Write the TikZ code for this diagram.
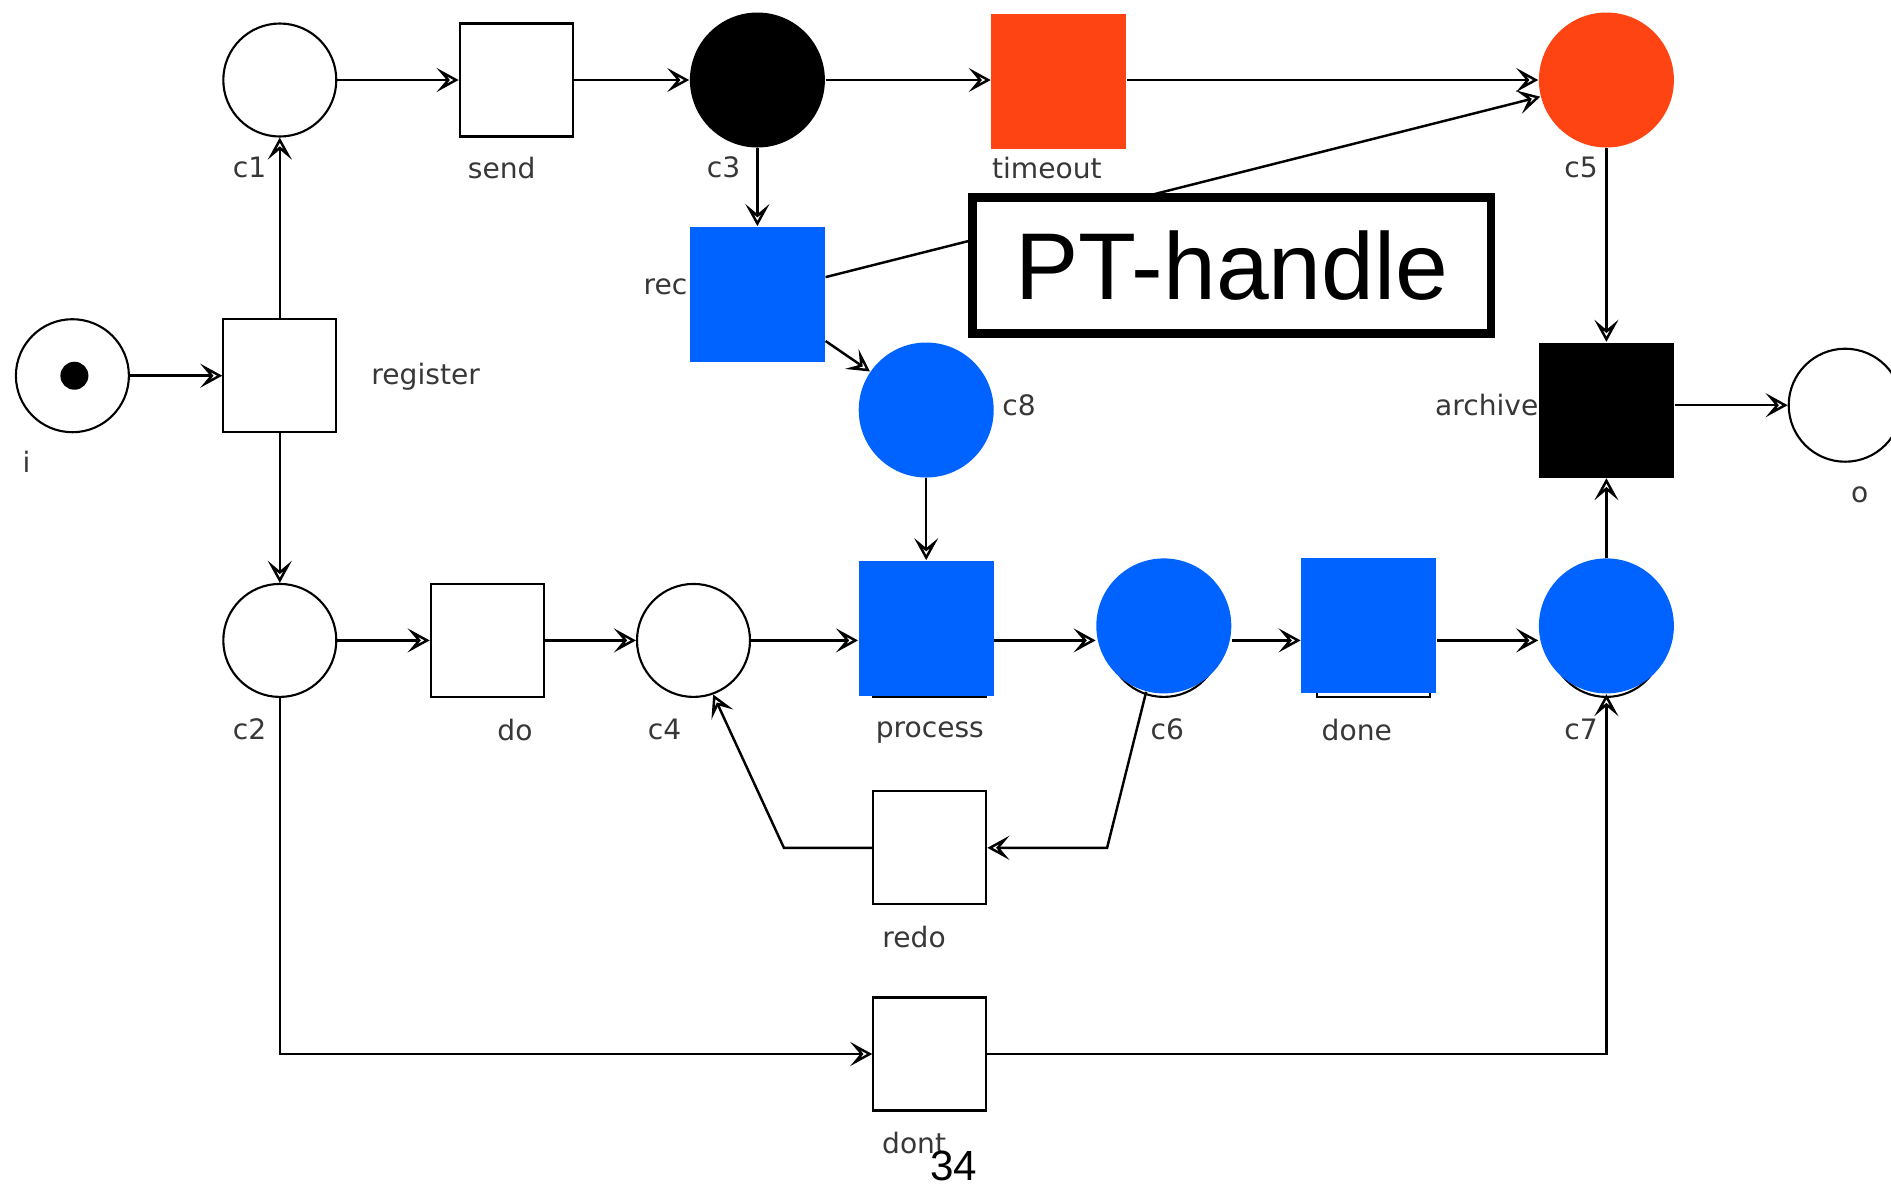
\documentclass[tikz,border=0pt]{standalone}
\usepackage{fontspec}
\setmainfont{DejaVu Sans}
\newfontfamily\boxfont{Liberation Sans}
\usetikzlibrary{arrows.meta}
\definecolor{pnblue}{RGB}{0,98,255}
\definecolor{pnred}{RGB}{255,68,20}
\definecolor{lblgray}{RGB}{55,55,55}

\tikzset{
  place/.style={circle, draw, line width=0.6pt, fill=white, minimum size=1.13cm, inner sep=0pt},
  trans/.style={rectangle, draw, line width=0.6pt, fill=white, minimum size=1.13cm, inner sep=0pt},
  hlplace/.style={circle, fill=#1, minimum size=1.35cm, inner sep=0pt},
  hltrans/.style={rectangle, fill=#1, minimum size=1.35cm, inner sep=0pt},
  lbl/.style={text=lblgray, font=\fontsize{8}{9}\selectfont, inner sep=0pt},
  flow/.style={-{Stealth[open, length=2.2mm, width=2.4mm, inset=1mm]}, line width=0.7pt},
}

\begin{document}
\begin{tikzpicture}
\useasboundingbox (0,0) rectangle (18.91,-11.855);

% Mista a prechody (bila)
\node[place] (i) at (0.724,-3.757) {};
\fill ([xshift=0.2mm]i.center) circle (1.4mm);
\node[trans] (register) at (2.798,-3.757) {};
\node[place] (c1) at (2.798,-0.800) {};
\node[trans] (send) at (5.162,-0.800) {};
\node[place] (c2) at (2.798,-6.404) {};
\node[trans] (do) at (4.872,-6.404) {};
\node[place] (c4) at (6.935,-6.404) {};
\node[trans] (redo) at (9.298,-8.478) {};
\node[trans] (dont) at (9.298,-10.540) {};
\node[place] (o) at (18.452,-4.052) {};

% Puvodni obrysy pod modrymi
\draw[line width=0.6pt] (9.298,-6.404) +(-0.565,-0.565) rectangle +(0.565,0.565);
\draw[line width=0.6pt] (11.638,-6.404) circle (0.565);
\draw[line width=0.6pt] (13.736,-6.404) +(-0.565,-0.565) rectangle +(0.565,0.565);
\draw[line width=0.6pt] (16.064,-6.404) circle (0.565);

% Zvyraznene uzly
\node[hlplace=black] (c3) at (7.574,-0.800) {};
\node[hltrans=pnred] (timeout) at (10.589,-0.810) {};
\node[hlplace=pnred] (c5) at (16.064,-0.800) {};
\node[hltrans=pnblue] (rec) at (7.574,-2.943) {};
\node[hlplace=pnblue] (c8) at (9.262,-4.100) {};
\node[hltrans=black] (archive) at (16.064,-4.100) {};
\node[hltrans=pnblue] (process) at (9.262,-6.283) {};
\node[hlplace=pnblue] (c6) at (11.638,-6.259) {};
\node[hltrans=pnblue] (done) at (13.688,-6.259) {};
\node[hlplace=pnblue] (c7) at (16.064,-6.259) {};

% Popisky
\node[lbl] (l-i) at (0.265,-4.619) {i};
\node[lbl] (l-register) at (4.257,-3.770) {register};
\node[lbl] (l-c1) at (2.496,-1.676) {c1};
\node[lbl] (l-send) at (5.017,-1.676) {send};
\node[lbl] (l-c3) at (7.236,-1.676) {c3};
\node[lbl] (l-timeout) at (10.468,-1.676) {timeout};
\node[lbl] (l-c5) at (15.811,-1.676) {c5};
\node[lbl, anchor=east] (l-rec) at (6.880,-2.870) {rec};
\node[lbl] (l-c8) at (10.191,-4.052) {c8};
\node[lbl, anchor=east] (l-archive) at (15.390,-4.052) {archive};
\node[lbl] (l-o) at (18.597,-4.945) {o};
\node[lbl] (l-c2) at (2.496,-7.296) {c2};
\node[lbl] (l-do) at (5.150,-7.296) {do};
\node[lbl] (l-c4) at (6.645,-7.296) {c4};
\node[lbl] (l-process) at (9.298,-7.330) {process};
\node[lbl] (l-c6) at (11.674,-7.296) {c6};
\node[lbl] (l-done) at (13.568,-7.296) {done};
\node[lbl] (l-c7) at (15.811,-7.296) {c7};
\node[lbl] (l-redo) at (9.141,-9.371) {redo};
\node[lbl] (l-dont) at (9.141,-11.433) {dont};

% Hrany
\coordinate (redobendR) at (11.071,-8.478);
\coordinate (redobendL) at (7.839,-8.478);
\draw[flow] (i) -- (register);
\draw[flow] (register) -- (c1);
\draw[flow] (register) -- (c2);
\draw[flow] (c1) -- (send);
\draw[flow] (send) -- (c3);
\draw[flow] (c3) -- (c3 -| timeout.west);
\draw[flow] (c3 -| timeout.east) -- (c5);
\draw[flow] (c3) -- (rec);
\draw[flow] (rec) -- (c5);
\draw[flow] (rec) -- (c8);
\draw[flow] (c8) -- (process);
\draw[flow] (c5) -- (archive);
\draw[flow] (o -| archive.east) -- (o);
\draw[flow] (c2) -- (do);
\draw[flow] (do) -- (c4);
\draw[flow] (c4) -- (c4 -| process.west);
\draw[flow] (c4 -| process.east) -- (c4 -| c6.west);
\draw[flow] (c4 -| c6.east) -- (c4 -| done.west);
\draw[flow] (c4 -| done.east) -- (c4 -| c7.west);
\draw[flow] (c7) -- (archive);
\draw[flow] (c6.255) -- (redobendR) -- (redo.east);
\draw[flow] (redo.west) -- (redobendL) -- (c4.290);
\draw[flow] (c2.south) |- (dont.west);
\draw[flow] (dont.east) -| (c7.south);

% Ramecek
\node[draw, line width=2.4pt, fill=white, minimum width=5.185cm, minimum height=1.36cm,
  font=\boxfont\fontsize{27}{30}\selectfont] (pthandle) at (12.319,-2.653) {PT-handle};

\node[font=\boxfont\fontsize{12}{14}\selectfont] (page) at (9.539,-11.662) {34};
\end{tikzpicture}
\end{document}
